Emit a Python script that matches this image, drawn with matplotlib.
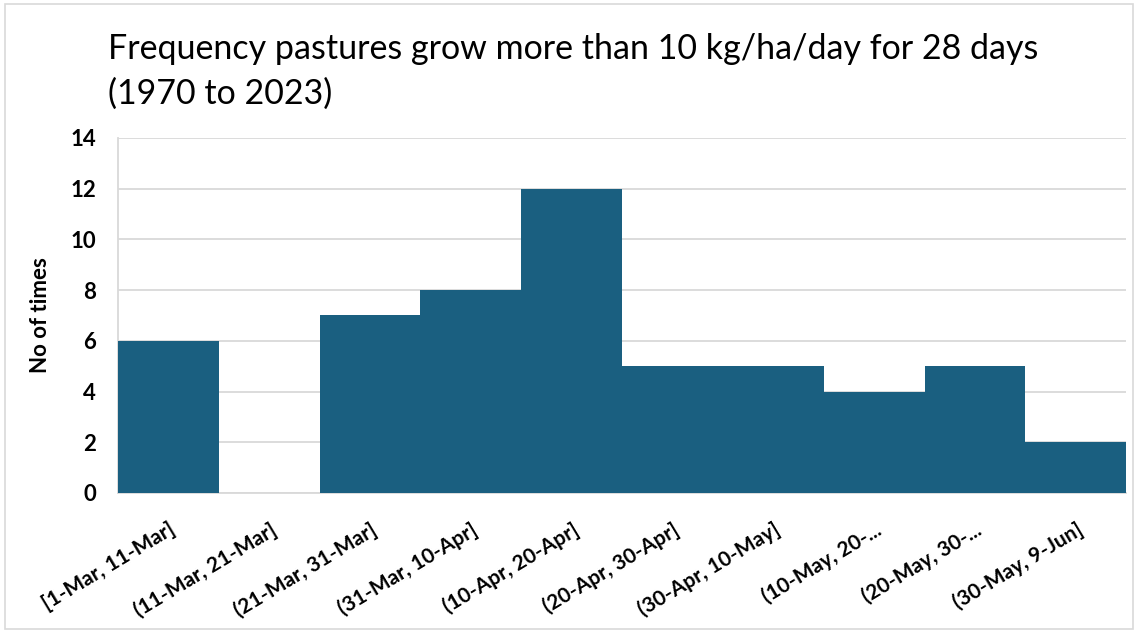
import numpy as np
import matplotlib.pyplot as plt
from matplotlib.patches import Rectangle

plt.rcParams['font.family'] = ['Lato', 'DejaVu Sans']

bins = ["[1-Mar, 11-Mar]", "(11-Mar, 21-Mar]", "(21-Mar, 31-Mar]", "(31-Mar, 10-Apr]",
        "(10-Apr, 20-Apr]", "(20-Apr, 30-Apr]", "(30-Apr, 10-May]", "(10-May, 20-...",
        "(20-May, 30-...", "(30-May, 9-Jun]"]
counts = [6, 0, 7, 8, 12, 5, 5, 4, 5, 2]

BAR_COLOR = "#1a5f80"
GRID_COLOR = "#d9d9d9"

fig = plt.figure(figsize=(11.38, 6.33), dpi=100)
ax = fig.add_axes([0.1037, 0.2212, 0.886, 0.5608])

x = np.arange(len(counts))
ax.bar(x, counts, width=1.0, color=BAR_COLOR, zorder=3)
ax.set_xlim(-0.5, len(counts) - 0.5)
ax.set_ylim(0, 14)
ax.set_yticks(range(0, 15, 2))
ax.yaxis.grid(True, color=GRID_COLOR, lw=1.3, zorder=0)

ax.set_xticks(x)
ax.set_xticklabels(bins, rotation=31, ha="right", va="top", rotation_mode="anchor",
                   fontsize=15, fontweight="bold")
for lab in ax.get_yticklabels():
    lab.set_fontsize(16)
    lab.set_fontweight("bold")
ax.tick_params(axis="both", length=0)
ax.tick_params(axis="x", pad=19)
ax.tick_params(axis="y", pad=16)

for side in ["top", "right"]:
    ax.spines[side].set_visible(False)
ax.spines["left"].set_color(GRID_COLOR)
ax.spines["left"].set_linewidth(1.3)
ax.spines["bottom"].set_color(GRID_COLOR)
ax.spines["bottom"].set_linewidth(1.3)

ax.set_ylabel("No of times", fontsize=16, fontweight="bold", labelpad=14)

fig.text(0.095, 0.887, "Frequency pastures grow more than 10 kg/ha/day for 28 days\n(1970 to 2023)",
         fontsize=24.5, ha="left", va="center", linespacing=1.5)

# thin frame around the whole chart
fig.patches.append(Rectangle((0.004, 0.006), 0.992, 0.988, transform=fig.transFigure,
                             fill=False, edgecolor=GRID_COLOR, lw=1.2))

fig.savefig("out.png", dpi=100)
